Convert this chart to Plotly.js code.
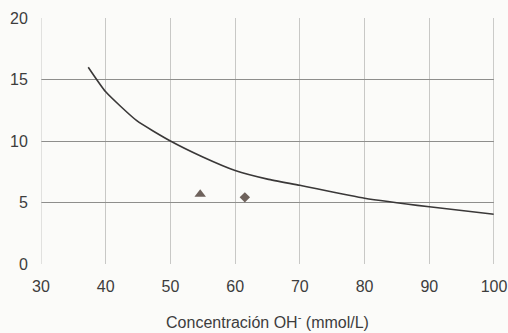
<!DOCTYPE html>
<html><head><meta charset="utf-8">
<script src="https://cdn.plot.ly/plotly-3.0.1.min.js"></script>
<style>html,body{margin:0;padding:0;background:#fbfbf9;}</style>
</head><body>
<div id="chart" style="width:508px;height:333px;"></div>
<script>
const curveX = [37.3, 40, 44.8, 50, 55, 60, 65, 70, 80, 90, 100];
const curveY = [16.0, 14.0, 11.65, 10.0, 8.7, 7.6, 6.9, 6.4, 5.35, 4.65, 4.05];
const triangleX = [54.6];
const triangleY = [5.67];
const diamondX = [61.5];
const diamondY = [5.42];
const xTicks = [30, 40, 50, 60, 70, 80, 90, 100];
const yTicks = [0, 5, 10, 15, 20];

const traces = [
  {x: curveX, y: curveY, mode: 'lines', line: {color: '#3a3838', width: 1.6, shape: 'spline', smoothing: 0.5}, hoverinfo: 'skip'},
  {x: triangleX, y: triangleY, mode: 'markers', marker: {symbol: 'triangle-up', size: 10, color: '#6e625c'}},
  {x: diamondX, y: diamondY, mode: 'markers', marker: {symbol: 'diamond', size: 8, color: '#6e625c'}}
];

const layout = {
  width: 508, height: 333,
  margin: {l: 41, r: 14, t: 17.5, b: 69},
  paper_bgcolor: '#fbfbf9', plot_bgcolor: '#fbfbf9',
  showlegend: false,
  font: {family: 'Liberation Sans, Arial, sans-serif', color: '#333'},
  xaxis: {
    range: [30, 100], tickvals: xTicks, ticktext: xTicks.map(String),
    showgrid: true, gridcolor: '#c8c8c6', gridwidth: 1,
    zeroline: false, showline: false,
    ticks: 'outside', ticklen: 8, tickcolor: 'rgba(0,0,0,0)',
    tickfont: {size: 16, color: '#3d3d3d'},
    title: {text: 'Concentración OH<sup>-</sup> (mmol/L)', font: {size: 16, color: '#3d3d3d'}, standoff: 22}
  },
  yaxis: {
    range: [0, 20], tickvals: yTicks, ticktext: yTicks.map(String),
    showgrid: true, gridcolor: '#8e8e8c', gridwidth: 1,
    zeroline: false, showline: false,
    ticks: 'outside', ticklen: 9, tickcolor: 'rgba(0,0,0,0)',
    tickfont: {size: 16, color: '#3d3d3d'}
  },
  shapes: [
    {type: 'line', xref: 'x', yref: 'paper', x0: 100, x1: 100, y0: 0, y1: 1, line: {color: '#9a9a98', width: 1}},
    {type: 'line', xref: 'x', yref: 'paper', x0: 30, x1: 30, y0: 0, y1: 1, line: {color: '#c8c8c6', width: 1}}
  ]
};

Plotly.newPlot('chart', traces, layout, {displayModeBar: false, staticPlot: true});
</script>
</body></html>
